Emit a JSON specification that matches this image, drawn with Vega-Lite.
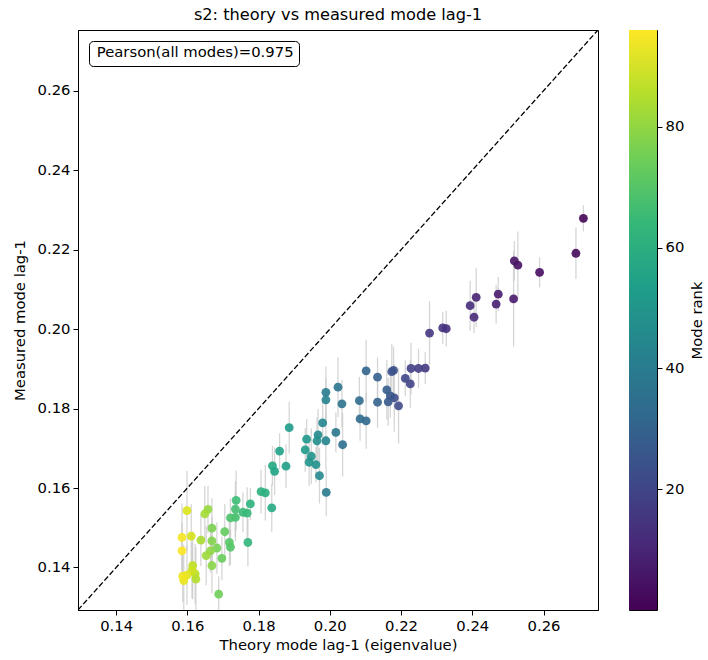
{
  "$schema": "https://vega.github.io/schema/vega-lite/v6.json",
  "padding": {"left": 11, "top": 6, "right": 0, "bottom": 0},
  "background": "white",
  "bounds": "flush",
  "spacing": 31,
  "config": {
    "view": {"stroke": "black", "strokeWidth": 1},
    "axis": {"domainColor": "black", "tickColor": "black", "labelColor": "black", "titleColor": "black", "labelFont": "DejaVu Sans", "titleFont": "DejaVu Sans", "labelFontSize": 14.8, "titleFontSize": 14.8, "titleFontWeight": "normal", "tickSize": 5, "labelPadding": 3, "grid": false, "domainWidth": 1, "tickWidth": 1}
  },
  "datasets": {
    "modes": [
      {"x": 0.2712, "y": 0.2279, "lo": 0.2246, "hi": 0.2312, "rank": 1},
      {"x": 0.2691, "y": 0.2191, "lo": 0.2126, "hi": 0.2256, "rank": 2},
      {"x": 0.2589, "y": 0.2143, "lo": 0.2105, "hi": 0.2181, "rank": 3},
      {"x": 0.2528, "y": 0.2161, "lo": 0.2076, "hi": 0.2246, "rank": 4},
      {"x": 0.2518, "y": 0.2172, "lo": 0.2122, "hi": 0.2222, "rank": 5},
      {"x": 0.2516, "y": 0.2076, "lo": 0.1956, "hi": 0.2196, "rank": 6},
      {"x": 0.2473, "y": 0.2088, "lo": 0.2045, "hi": 0.2131, "rank": 7},
      {"x": 0.2467, "y": 0.2063, "lo": 0.2014, "hi": 0.2112, "rank": 8},
      {"x": 0.2411, "y": 0.2080, "lo": 0.2006, "hi": 0.2154, "rank": 9},
      {"x": 0.2405, "y": 0.2030, "lo": 0.1990, "hi": 0.2070, "rank": 11},
      {"x": 0.2394, "y": 0.2059, "lo": 0.1996, "hi": 0.2122, "rank": 12},
      {"x": 0.2327, "y": 0.2001, "lo": 0.1956, "hi": 0.2046, "rank": 13},
      {"x": 0.2317, "y": 0.2003, "lo": 0.1963, "hi": 0.2043, "rank": 14},
      {"x": 0.2280, "y": 0.1990, "lo": 0.1910, "hi": 0.2070, "rank": 15},
      {"x": 0.2268, "y": 0.1902, "lo": 0.1862, "hi": 0.1942, "rank": 16},
      {"x": 0.2249, "y": 0.1901, "lo": 0.1851, "hi": 0.1951, "rank": 17},
      {"x": 0.2228, "y": 0.1901, "lo": 0.1836, "hi": 0.1966, "rank": 18},
      {"x": 0.2226, "y": 0.1862, "lo": 0.1802, "hi": 0.1922, "rank": 19},
      {"x": 0.2212, "y": 0.1876, "lo": 0.1831, "hi": 0.1921, "rank": 20},
      {"x": 0.2193, "y": 0.1807, "lo": 0.1712, "hi": 0.1902, "rank": 21},
      {"x": 0.2181, "y": 0.1827, "lo": 0.1742, "hi": 0.1912, "rank": 22},
      {"x": 0.2179, "y": 0.1896, "lo": 0.1836, "hi": 0.1956, "rank": 23},
      {"x": 0.2174, "y": 0.1893, "lo": 0.1823, "hi": 0.1963, "rank": 24},
      {"x": 0.2170, "y": 0.1832, "lo": 0.1777, "hi": 0.1887, "rank": 26},
      {"x": 0.2164, "y": 0.1817, "lo": 0.1757, "hi": 0.1877, "rank": 27},
      {"x": 0.2160, "y": 0.1847, "lo": 0.1772, "hi": 0.1922, "rank": 28},
      {"x": 0.2134, "y": 0.1879, "lo": 0.1829, "hi": 0.1929, "rank": 29},
      {"x": 0.2134, "y": 0.1816, "lo": 0.1751, "hi": 0.1881, "rank": 30},
      {"x": 0.2102, "y": 0.1895, "lo": 0.1817, "hi": 0.1973, "rank": 31},
      {"x": 0.2102, "y": 0.1769, "lo": 0.1699, "hi": 0.1839, "rank": 32},
      {"x": 0.2085, "y": 0.1774, "lo": 0.1719, "hi": 0.1829, "rank": 33},
      {"x": 0.2083, "y": 0.1820, "lo": 0.1760, "hi": 0.1880, "rank": 34},
      {"x": 0.2036, "y": 0.1709, "lo": 0.1629, "hi": 0.1789, "rank": 35},
      {"x": 0.2034, "y": 0.1812, "lo": 0.1752, "hi": 0.1872, "rank": 36},
      {"x": 0.2023, "y": 0.1854, "lo": 0.1779, "hi": 0.1929, "rank": 37},
      {"x": 0.2017, "y": 0.1740, "lo": 0.1690, "hi": 0.1790, "rank": 38},
      {"x": 0.1990, "y": 0.1589, "lo": 0.1529, "hi": 0.1649, "rank": 39},
      {"x": 0.1989, "y": 0.1841, "lo": 0.1776, "hi": 0.1906, "rank": 40},
      {"x": 0.1989, "y": 0.1822, "lo": 0.1767, "hi": 0.1877, "rank": 42},
      {"x": 0.1989, "y": 0.1719, "lo": 0.1649, "hi": 0.1789, "rank": 43},
      {"x": 0.1980, "y": 0.1764, "lo": 0.1709, "hi": 0.1819, "rank": 44},
      {"x": 0.1971, "y": 0.1631, "lo": 0.1561, "hi": 0.1701, "rank": 45},
      {"x": 0.1967, "y": 0.1734, "lo": 0.1669, "hi": 0.1799, "rank": 46},
      {"x": 0.1964, "y": 0.1719, "lo": 0.1659, "hi": 0.1779, "rank": 47},
      {"x": 0.1961, "y": 0.1659, "lo": 0.1614, "hi": 0.1704, "rank": 48},
      {"x": 0.1948, "y": 0.1680, "lo": 0.1610, "hi": 0.1750, "rank": 49},
      {"x": 0.1942, "y": 0.1665, "lo": 0.1605, "hi": 0.1725, "rank": 50},
      {"x": 0.1935, "y": 0.1723, "lo": 0.1673, "hi": 0.1773, "rank": 51},
      {"x": 0.1931, "y": 0.1696, "lo": 0.1641, "hi": 0.1751, "rank": 52},
      {"x": 0.1886, "y": 0.1752, "lo": 0.1687, "hi": 0.1817, "rank": 53},
      {"x": 0.1877, "y": 0.1655, "lo": 0.1600, "hi": 0.1710, "rank": 54},
      {"x": 0.1859, "y": 0.1693, "lo": 0.1648, "hi": 0.1738, "rank": 55},
      {"x": 0.1845, "y": 0.1642, "lo": 0.1582, "hi": 0.1702, "rank": 56},
      {"x": 0.1839, "y": 0.1656, "lo": 0.1606, "hi": 0.1706, "rank": 58},
      {"x": 0.1837, "y": 0.1550, "lo": 0.1490, "hi": 0.1610, "rank": 59},
      {"x": 0.1819, "y": 0.1588, "lo": 0.1518, "hi": 0.1658, "rank": 60},
      {"x": 0.1807, "y": 0.1591, "lo": 0.1536, "hi": 0.1646, "rank": 61},
      {"x": 0.1777, "y": 0.1560, "lo": 0.1520, "hi": 0.1600, "rank": 62},
      {"x": 0.1770, "y": 0.1463, "lo": 0.1403, "hi": 0.1523, "rank": 63},
      {"x": 0.1768, "y": 0.1537, "lo": 0.1472, "hi": 0.1602, "rank": 64},
      {"x": 0.1756, "y": 0.1539, "lo": 0.1489, "hi": 0.1589, "rank": 65},
      {"x": 0.1737, "y": 0.1569, "lo": 0.1494, "hi": 0.1644, "rank": 66},
      {"x": 0.1735, "y": 0.1547, "lo": 0.1477, "hi": 0.1617, "rank": 67},
      {"x": 0.1735, "y": 0.1526, "lo": 0.1466, "hi": 0.1586, "rank": 68},
      {"x": 0.1721, "y": 0.1525, "lo": 0.1475, "hi": 0.1575, "rank": 69},
      {"x": 0.1721, "y": 0.1451, "lo": 0.1406, "hi": 0.1496, "rank": 70},
      {"x": 0.1718, "y": 0.1463, "lo": 0.1403, "hi": 0.1523, "rank": 71},
      {"x": 0.1705, "y": 0.1490, "lo": 0.1420, "hi": 0.1560, "rank": 73},
      {"x": 0.1697, "y": 0.1423, "lo": 0.1368, "hi": 0.1478, "rank": 74},
      {"x": 0.1688, "y": 0.1333, "lo": 0.1288, "hi": 0.1378, "rank": 75},
      {"x": 0.1683, "y": 0.1449, "lo": 0.1384, "hi": 0.1514, "rank": 76},
      {"x": 0.1669, "y": 0.1499, "lo": 0.1424, "hi": 0.1574, "rank": 77},
      {"x": 0.1669, "y": 0.1467, "lo": 0.1407, "hi": 0.1527, "rank": 78},
      {"x": 0.1669, "y": 0.1405, "lo": 0.1335, "hi": 0.1475, "rank": 79},
      {"x": 0.1665, "y": 0.1442, "lo": 0.1387, "hi": 0.1497, "rank": 80},
      {"x": 0.1658, "y": 0.1546, "lo": 0.1486, "hi": 0.1606, "rank": 81},
      {"x": 0.1653, "y": 0.1430, "lo": 0.1355, "hi": 0.1505, "rank": 82},
      {"x": 0.1649, "y": 0.1535, "lo": 0.1465, "hi": 0.1605, "rank": 83},
      {"x": 0.1638, "y": 0.1469, "lo": 0.1404, "hi": 0.1534, "rank": 84},
      {"x": 0.1624, "y": 0.1371, "lo": 0.1291, "hi": 0.1451, "rank": 85},
      {"x": 0.1622, "y": 0.1384, "lo": 0.1309, "hi": 0.1459, "rank": 86},
      {"x": 0.1615, "y": 0.1405, "lo": 0.1320, "hi": 0.1490, "rank": 87},
      {"x": 0.1613, "y": 0.1392, "lo": 0.1322, "hi": 0.1462, "rank": 89},
      {"x": 0.1611, "y": 0.1479, "lo": 0.1399, "hi": 0.1559, "rank": 90},
      {"x": 0.1599, "y": 0.1543, "lo": 0.1443, "hi": 0.1643, "rank": 91},
      {"x": 0.1599, "y": 0.1381, "lo": 0.1306, "hi": 0.1456, "rank": 92},
      {"x": 0.1590, "y": 0.1367, "lo": 0.1277, "hi": 0.1457, "rank": 93},
      {"x": 0.1587, "y": 0.1378, "lo": 0.1313, "hi": 0.1443, "rank": 94},
      {"x": 0.1585, "y": 0.1476, "lo": 0.1391, "hi": 0.1561, "rank": 95},
      {"x": 0.1585, "y": 0.1442, "lo": 0.1372, "hi": 0.1512, "rank": 96}
    ],
    "diag": [
      {"v": 0.1293, "note": "Pearson(all modes)=0.975"},
      {"v": 0.2753, "note": "Pearson(all modes)=0.975"}
    ],
    "cbar": [
      {"lo": 0, "hi": 96}
    ]
  },
  "hconcat": [
    {
      "width": 520,
      "height": 580,
      "title": {"text": "s2: theory vs measured mode lag-1", "font": "DejaVu Sans", "fontSize": 16.2, "fontWeight": "normal", "color": "black", "anchor": "middle", "frame": "group", "offset": 7},
      "resolve": {"legend": {"strokeDash": "independent"}},
      "layer": [
        {
          "data": {"name": "modes"},
          "mark": {"type": "rule", "color": "#c8c8c8", "opacity": 0.75, "strokeWidth": 1.3, "clip": true},
          "encoding": {
            "x": {"field": "x", "type": "quantitative", "scale": {"domain": [0.1293, 0.2753], "nice": false, "zero": false},
                  "axis": {"values": [0.14, 0.16, 0.18, 0.2, 0.22, 0.24, 0.26], "format": ".2f", "title": "Theory mode lag-1 (eigenvalue)", "titlePadding": 5}},
            "y": {"field": "lo", "type": "quantitative", "scale": {"domain": [0.1293, 0.2753], "nice": false, "zero": false},
                  "axis": {"values": [0.14, 0.16, 0.18, 0.2, 0.22, 0.24, 0.26], "format": ".2f", "title": "Measured mode lag-1", "titlePadding": 10}},
            "y2": {"field": "hi"}
          }
        },
        {
          "data": {"name": "diag"},
          "mark": {"type": "line", "color": "black", "strokeWidth": 1.3, "clip": true},
          "encoding": {
            "x": {"field": "v", "type": "quantitative"},
            "y": {"field": "v", "type": "quantitative"},
            "strokeDash": {"field": "note", "type": "nominal", "scale": {"range": [[5.5, 2.4]]},
              "legend": {"orient": "top-left", "offset": 11, "title": null, "symbolSize": 0, "symbolOpacity": 0, "symbolStrokeWidth": 0, "labelOffset": -12,
                         "labelFont": "DejaVu Sans", "labelFontSize": 14.8, "labelColor": "black", "labelLimit": 400,
                         "strokeColor": "black", "fillColor": "white", "cornerRadius": 4, "padding": 5}}
          }
        },
        {
          "data": {"name": "modes"},
          "mark": {"type": "circle", "size": 78, "opacity": 0.9},
          "encoding": {
            "x": {"field": "x", "type": "quantitative"},
            "y": {"field": "y", "type": "quantitative"},
            "color": {"field": "rank", "type": "quantitative", "scale": {"scheme": "viridis", "domain": [0, 96]}, "legend": null}
          }
        }
      ]
    },
    {
      "width": 28,
      "height": 580,
      "data": {"name": "cbar"},
      "mark": {"type": "rect", "color": {"gradient": "linear", "x1": 0, "y1": 1, "x2": 0, "y2": 0,
        "stops": [
          {"offset": 0.0, "color": "#440154"},
          {"offset": 0.111, "color": "#482878"},
          {"offset": 0.222, "color": "#3e4989"},
          {"offset": 0.333, "color": "#31688e"},
          {"offset": 0.444, "color": "#26828e"},
          {"offset": 0.556, "color": "#1f9e89"},
          {"offset": 0.667, "color": "#35b779"},
          {"offset": 0.778, "color": "#6ece58"},
          {"offset": 0.889, "color": "#b5de2b"},
          {"offset": 1.0, "color": "#fde725"}
        ]}},
      "encoding": {
        "y": {"field": "lo", "type": "quantitative", "scale": {"domain": [0, 96], "nice": false, "zero": false},
              "axis": {"orient": "right", "values": [20, 40, 60, 80], "domain": false, "title": "Mode rank", "titleAngle": -90, "titleBaseline": "top", "titlePadding": 6}},
        "y2": {"field": "hi"}
      }
    }
  ]
}
